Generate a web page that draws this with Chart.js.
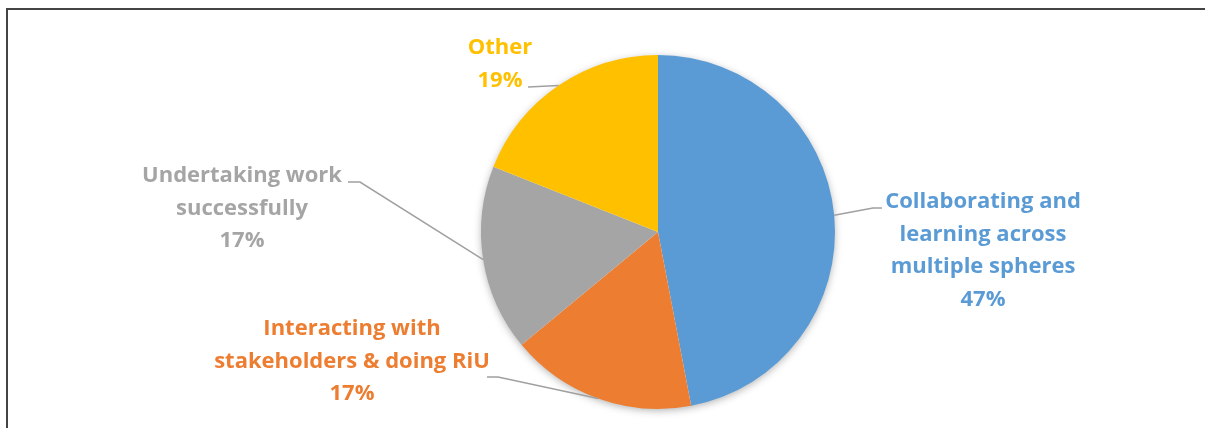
<!DOCTYPE html>
<html>
<head>
<meta charset="utf-8">
<script src="https://cdn.jsdelivr.net/npm/chart.js@4.4.1/dist/chart.umd.min.js"></script>
<style>
  html, body { margin: 0; padding: 0; background: #fff; }
  #wrap { position: relative; width: 1205px; height: 428px; overflow: hidden; }
  #frame {
    position: absolute; left: 6px; top: 8px; width: 1300px; height: 500px;
    border-top: 2px solid #444; border-left: 2px solid #444;
  }
  canvas { position: absolute; left: 0; top: 0; }
</style>
</head>
<body>
<div id="wrap">
  <div id="frame"></div>
  <canvas id="pieChart"></canvas>
</div>
<script>
const categories = [
  ['Collaborating and', 'learning across', 'multiple spheres'],
  ['Interacting with', 'stakeholders & doing RiU'],
  ['Undertaking work', 'successfully'],
  ['Other'],
];
const shares = [47, 17, 17, 19];
const sliceColors = ['#5b9bd5', '#ed7d31', '#a5a5a5', '#ffc000'];

// where each label sits and how its leader line bends (px)
const labelLayout = [
  { x: 983, y: 208, elbow: [873, 208], end: [882, 208] },
  { x: 352, y: 335, elbow: [498, 377], end: [487, 377] },
  { x: 242, y: 182, elbow: [360, 182], end: [348, 182] },
  { x: 500, y: 54, elbow: null, end: [528, 87] },
];
const lineHeight = 32.5;

const pieShadow = {
  id: 'pieShadow',
  beforeDatasetsDraw(chart) {
    const arc = chart.getDatasetMeta(0).data[0];
    if (!arc) return;
    const { ctx } = chart;
    ctx.save();
    ctx.shadowColor = 'rgba(0,0,0,0.35)';
    ctx.shadowBlur = 9;
    ctx.shadowOffsetY = 2;
    ctx.fillStyle = '#fff';
    ctx.beginPath();
    ctx.arc(arc.x, arc.y, arc.outerRadius - 1, 0, Math.PI * 2);
    ctx.fill();
    ctx.restore();
  },
};

const pieLabels = {
  id: 'pieLabels',
  afterDatasetsDraw(chart) {
    const { ctx } = chart;
    const arcs = chart.getDatasetMeta(0).data;
    ctx.save();
    arcs.forEach((arc, i) => {
      const lay = labelLayout[i];
      const mid = (arc.startAngle + arc.endAngle) / 2;
      const sx = arc.x + Math.cos(mid) * arc.outerRadius;
      const sy = arc.y + Math.sin(mid) * arc.outerRadius;

      ctx.strokeStyle = '#a0a0a0';
      ctx.lineWidth = 1.5;
      ctx.beginPath();
      ctx.moveTo(sx, sy);
      if (lay.elbow) ctx.lineTo(lay.elbow[0], lay.elbow[1]);
      ctx.lineTo(lay.end[0], lay.end[1]);
      ctx.stroke();

      const lines = categories[i].concat([shares[i] + '%']);
      ctx.fillStyle = sliceColors[i];
      ctx.font = 'bold 22px "Open Sans"';
      ctx.textAlign = 'center';
      ctx.textBaseline = 'alphabetic';
      lines.forEach((t, k) => ctx.fillText(t, lay.x, lay.y + k * lineHeight));
    });
    ctx.restore();
  },
};

new Chart(document.getElementById('pieChart'), {
  type: 'pie',
  data: {
    labels: categories,
    datasets: [{
      data: shares,
      backgroundColor: sliceColors,
      borderWidth: 0,
      hoverOffset: 0,
    }],
  },
  options: {
    responsive: true,
    maintainAspectRatio: false,
    animation: false,
    events: [],
    layout: { padding: { top: 55, bottom: 19, left: 111, right: 0 } },
    plugins: {
      legend: { display: false },
      tooltip: { enabled: false },
    },
  },
  plugins: [pieShadow, pieLabels],
});
</script>
</body>
</html>
